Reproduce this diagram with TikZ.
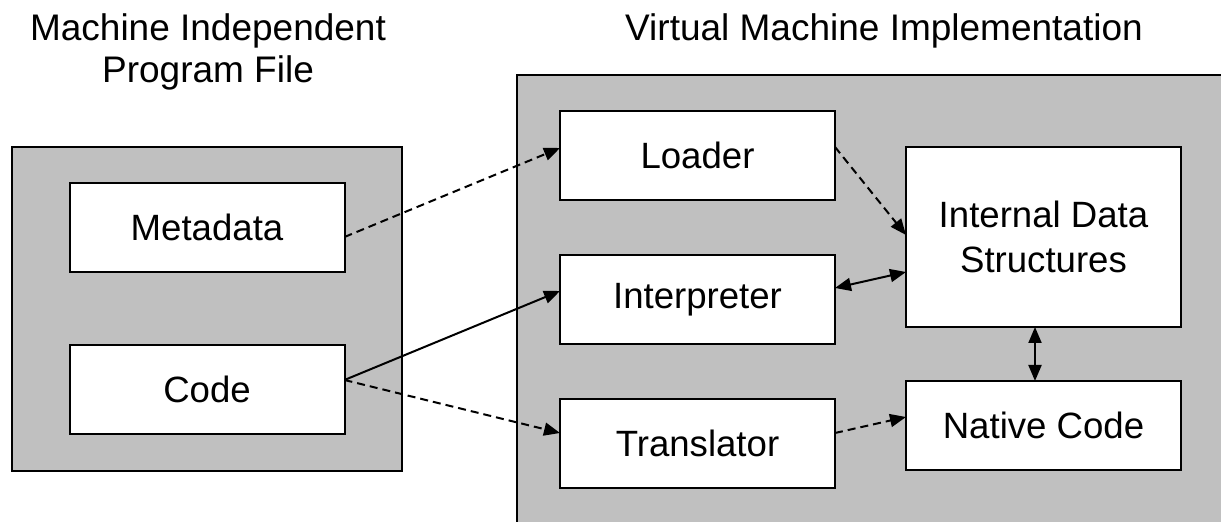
\documentclass[tikz,border=0pt]{standalone}
\usepackage{fontspec}
\setmainfont{Liberation Sans}
\usetikzlibrary{arrows.meta,calc}
\definecolor{panel}{HTML}{C0C0C0}
\begin{document}
\begin{tikzpicture}[x=0.5pt,y=-0.5pt,
  panelbox/.style={draw=black,line width=0.9pt,fill=panel},
  block/.style={draw=black,line width=1pt,fill=white,minimum width=137.5pt,
    minimum height=44.5pt,inner sep=0pt,outer sep=0pt,
    font=\fontsize{18.3}{22.5}\selectfont,align=center},
  title/.style={font=\fontsize{18.5}{21}\selectfont,align=center,inner sep=0pt},
  link/.style={line width=1pt,-{Triangle[length=8pt,width=6.5pt]}},
  twoway/.style={line width=1pt,{Triangle[length=8pt,width=6.5pt]}-{Triangle[length=8pt,width=6.5pt]}},
  dashedlink/.style={link,dash pattern=on 4pt off 2.5pt}]

\useasboundingbox (0,0) rectangle (1221,522);
\clip (0,0) rectangle (1221,522);

% titles (a two-line node is anchored on its last baseline)
\node[title,anchor=base] (ttlfile) at (208,83) {Machine Independent\\Program File};
\node[title,anchor=base] (ttlvm) at (884,41) {Virtual Machine Implementation};

% grey panels
\draw[panelbox] (12,147) rectangle (402,471);
\draw[panelbox] (517,75) rectangle (1240,540);

% program file parts
\node[block] (meta) at (207,227.5) {Metadata};
\node[block] (code) at (207,389.5) {Code};

% virtual machine parts
\node[block] (loader) at (697.5,155.5) {Loader};
\node[block] (interp) at (697.5,300) {Interpreter};
\node[block] (transl) at (697.5,443.5) {Translator};
\node[block,minimum height=90pt] (ids) at (1043.5,237) {Internal Data\\Structures};
\node[block] (native) at (1043.5,425.5) {Native Code};

% connectors
\draw[dashedlink] ([yshift=-4.75pt]meta.east) -- ([yshift=3.75pt]loader.west);
\draw[link] ([yshift=4.75pt]code.east) -- ([yshift=4.5pt]interp.west);
\draw[dashedlink] ([yshift=4.75pt]code.east) -- ([yshift=5.25pt]transl.west);
\draw[dashedlink] ([yshift=4.25pt]loader.east) -- ([yshift=1pt]ids.west);
\draw[twoway] ([yshift=6pt]interp.east) -- ([yshift=-17.5pt]ids.west);
\draw[twoway] ([xshift=-4.25pt]ids.south) -- ([xshift=-4.25pt]native.north);
\draw[dashedlink] ([yshift=5.25pt]transl.east) -- ([yshift=4.25pt]native.west);
\end{tikzpicture}
\end{document}
